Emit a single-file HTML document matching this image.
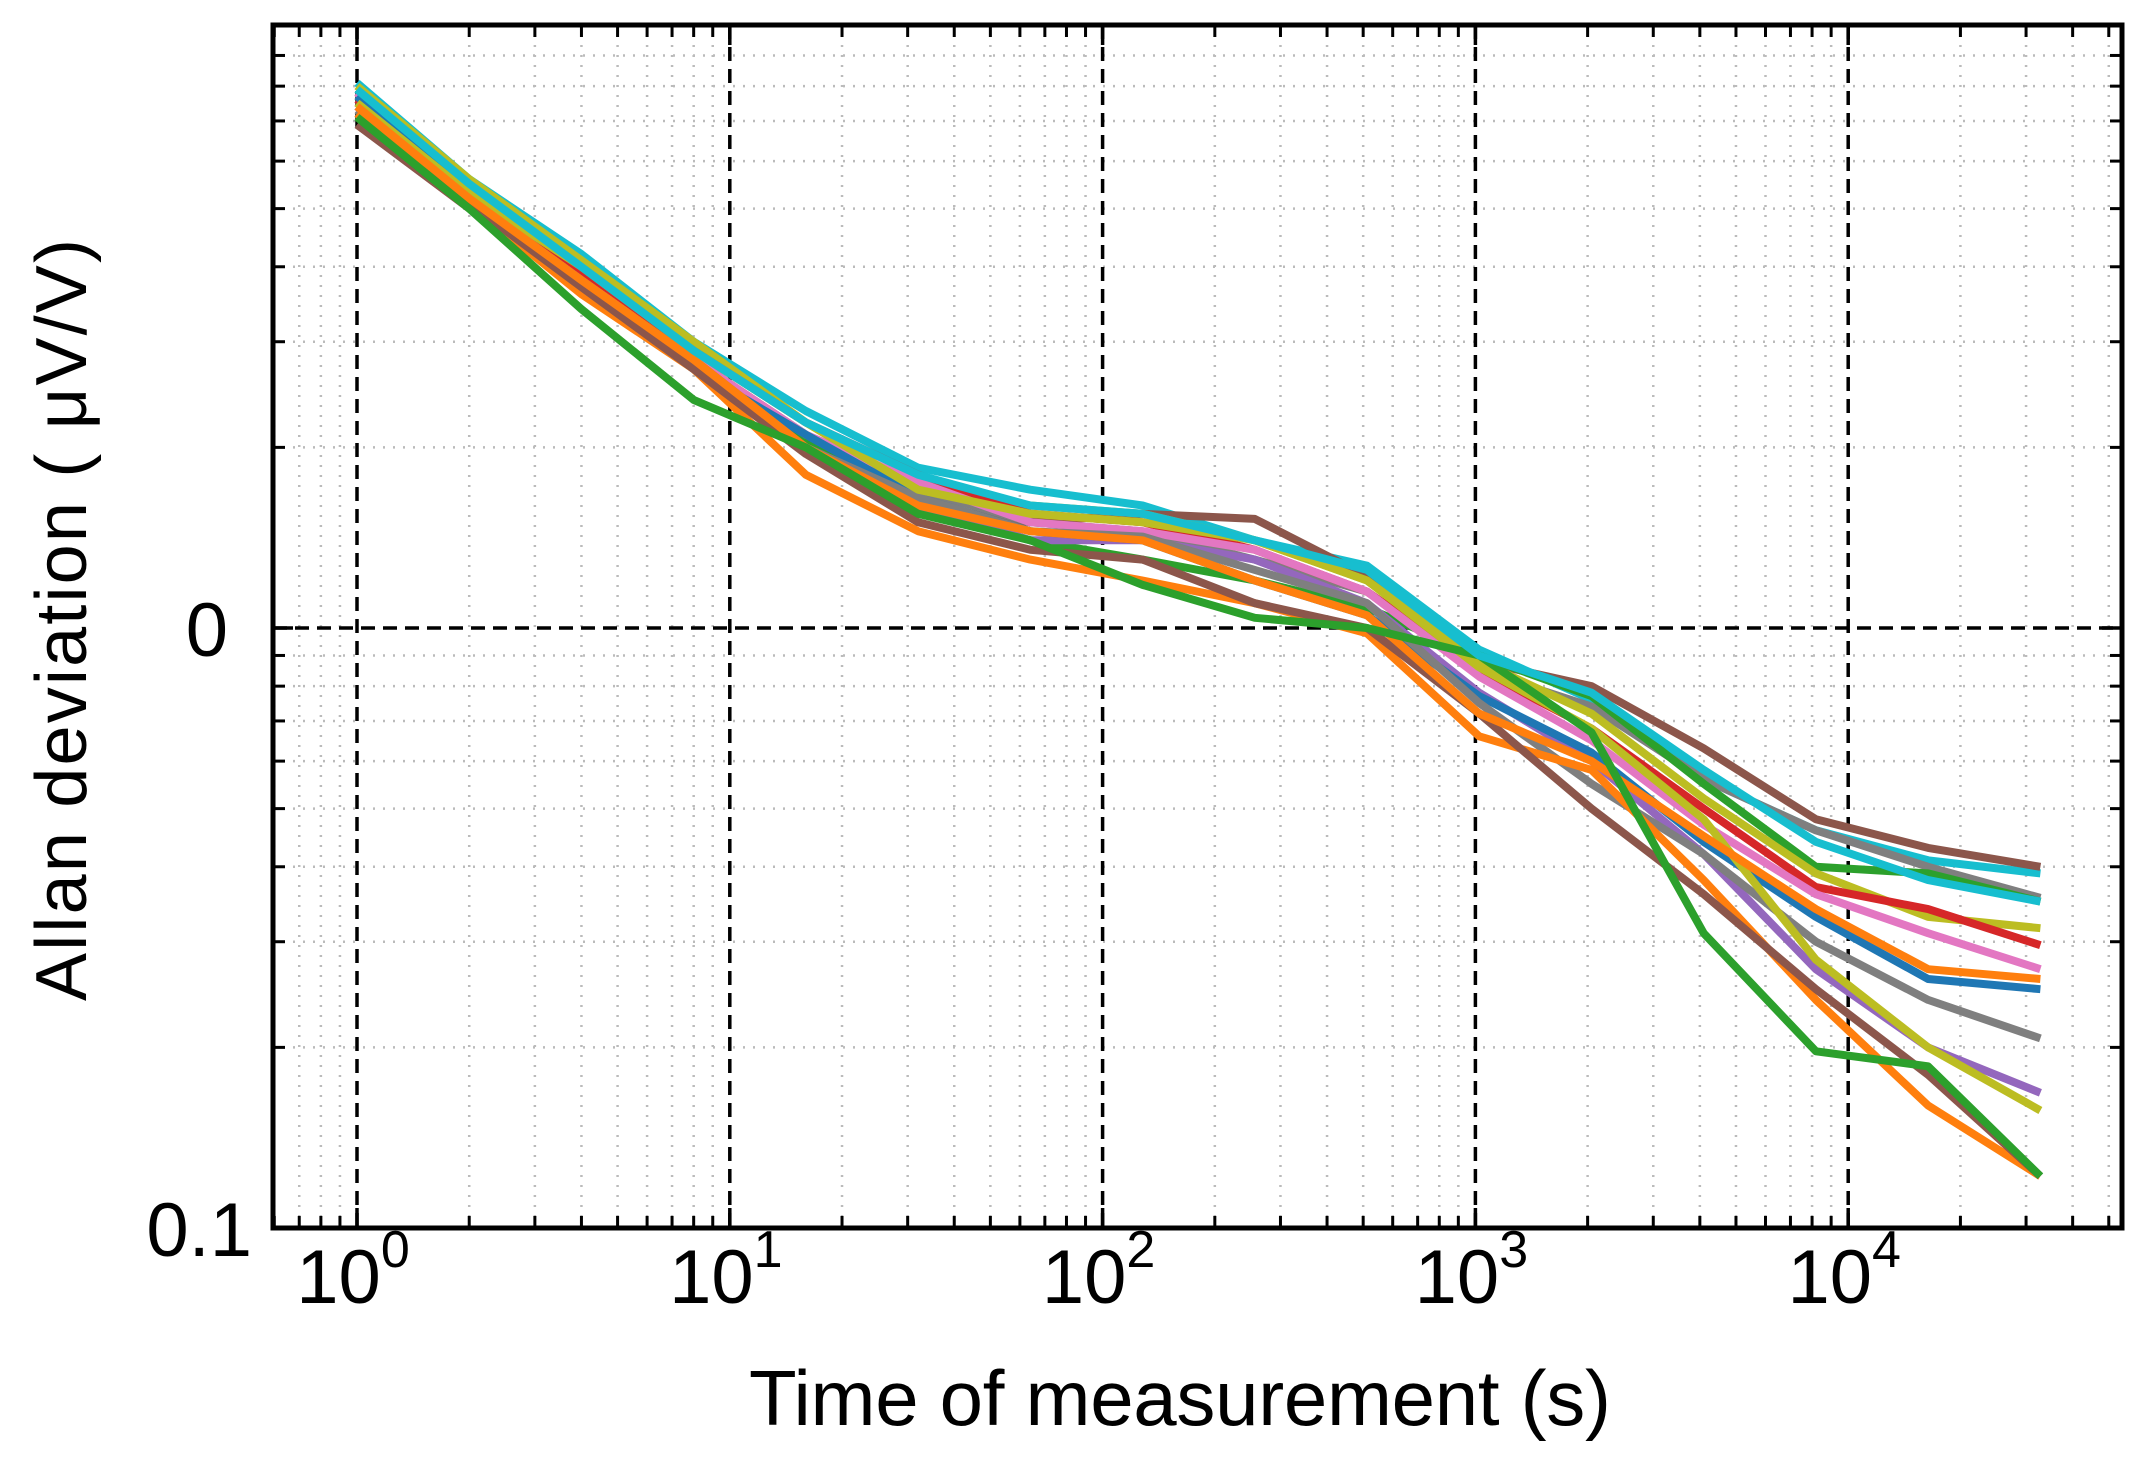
<!DOCTYPE html>
<html><head><meta charset="utf-8"><style>
html,body{margin:0;padding:0;background:#fff;}
svg{display:block;font-family:"Liberation Sans","DejaVu Sans",sans-serif;}
</style></head><body>
<svg id="chart" width="2149" height="1465" viewBox="0 0 2149 1465" xmlns="http://www.w3.org/2000/svg">
<rect x="0" y="0" width="2149" height="1465" fill="#fff"/>
<g id="grid"></g>
<g id="series"></g>
<g id="axes"></g>
<text x="1180" y="1425" font-size="78" text-anchor="middle" textLength="862">Time of measurement (s)</text>
<text transform="translate(86,620) rotate(-90)" font-size="72" text-anchor="middle" textLength="762">Allan deviation ( μV/V)</text>
</svg>
<script>
const taus = [1,2,4,8,16,32,64,128,256,512,1024,2048,4096,8192,16384,32768];
const colors = ["#17becf","#8c564b","#7f7f7f","#2ca02c","#bcbd22","#d62728","#e377c2","#9467bd","#1f77b4","#7f7f7f","#ff7f0e","#8c564b","#bcbd22","#ff7f0e","#2ca02c","#17becf"];
const sCyan = [8.1,5.6,4.2,3.0,2.3,1.85,1.7,1.6,1.4,1.27,0.92,0.76,0.56,0.46,0.41,0.39];
const sBrown = [6.9,5.0,3.8,2.8,2.1,1.6,1.5,1.55,1.52,1.22,0.88,0.80,0.63,0.48,0.43,0.40];
const sGray = [7.3,5.2,3.8,2.8,2.1,1.7,1.5,1.45,1.3,1.15,0.85,0.74,0.56,0.46,0.40,0.355];
const sGreen1 = [7.2,5.1,3.7,2.7,2.05,1.6,1.4,1.3,1.2,1.08,0.9,0.77,0.55,0.40,0.39,0.35];
const sOlive1 = [8.0,5.6,4.1,3.0,2.2,1.7,1.6,1.55,1.4,1.2,0.88,0.72,0.52,0.39,0.33,0.316];
const sRed = [7.6,5.3,3.9,2.9,2.2,1.8,1.55,1.5,1.35,1.15,0.85,0.68,0.5,0.37,0.34,0.296];
const sPink = [7.8,5.2,3.8,2.8,2.1,1.75,1.5,1.45,1.35,1.15,0.83,0.65,0.47,0.36,0.31,0.27];
const sPurple = [7.4,5.1,3.7,2.7,2.0,1.6,1.4,1.4,1.3,1.1,0.78,0.6,0.42,0.27,0.2,0.168];
const sBlue = [7.7,5.3,3.7,2.7,2.1,1.65,1.45,1.4,1.2,1.05,0.77,0.62,0.44,0.33,0.26,0.25];
const sGray2 = [7.5,5.2,3.8,2.8,2.0,1.65,1.45,1.42,1.25,1.1,0.75,0.55,0.42,0.30,0.24,0.207];
const sOrange1 = [7.2,5.1,3.6,2.7,1.8,1.45,1.3,1.2,1.1,0.98,0.66,0.58,0.38,0.24,0.16,0.122];
const sBrown2 = [6.9,5.1,3.7,2.7,1.95,1.5,1.35,1.3,1.1,1.0,0.72,0.5,0.36,0.25,0.18,0.122];
const sOlive2 = [7.5,5.3,4.0,2.9,2.2,1.7,1.55,1.5,1.4,1.2,0.86,0.68,0.48,0.28,0.2,0.157];
const sOrange2 = [7.4,5.2,3.8,2.8,2.0,1.6,1.45,1.4,1.2,1.05,0.72,0.6,0.45,0.34,0.27,0.26];
const sGreen2 = [7.1,5.0,3.4,2.4,2.0,1.55,1.4,1.18,1.04,1.0,0.9,0.67,0.31,0.197,0.186,0.122];
const sCyan2 = [7.9,5.5,4.0,2.9,2.2,1.8,1.6,1.55,1.4,1.25,0.9,0.78,0.58,0.44,0.38,0.35];
const series = [sCyan,sBrown,sGray,sGreen1,sOlive1,sRed,sPink,sPurple,sBlue,sGray2,sOrange1,sBrown2,sOlive2,sOrange2,sGreen2,sCyan2];
const xTickExps = [0,1,2,3,4];
const yTickVals = [0.1,1];
const yTickLabels = ["0.1","0"];

const NS = "http://www.w3.org/2000/svg";
const L=273,R=2122,T=25,B=1228;
const x0=357, xDec=372.8, y1=628, yDec=600;
function xs(v){return x0+Math.log10(v)*xDec;}
function ys(v){return y1-Math.log10(v)*yDec;}
function mk(tag,attrs,parent){const e=document.createElementNS(NS,tag);for(const k in attrs)e.setAttribute(k,attrs[k]);parent.appendChild(e);return e;}
const grid=document.getElementById('grid'), axes=document.getElementById('axes'), sg=document.getElementById('series');

for(let d=-1;d<=5;d++){for(let m=2;m<=9;m++){const v=m*Math.pow(10,d);const x=xs(v);if(x>L&&x<R){
 const l=mk('line',{x1:x,x2:x,y1:T,y2:B,stroke:'#bbb','stroke-width':2.5,'stroke-dasharray':'2 8'},grid);
 
 
 mk('line',{x1:x,x2:x,y1:B,y2:B-12,stroke:'#000','stroke-width':3},axes);
 mk('line',{x1:x,x2:x,y1:T,y2:T+12,stroke:'#000','stroke-width':3},axes);}}}
for(let d=-2;d<=1;d++){for(let m=2;m<=9;m++){const v=m*Math.pow(10,d);const y=ys(v);if(y>T&&y<B){
 const l=mk('line',{x1:L,x2:R,y1:y,y2:y,stroke:'#bbb','stroke-width':2.5,'stroke-dasharray':'2 8'},grid);
 
 
 mk('line',{x1:L,x2:L+12,y1:y,y2:y,stroke:'#000','stroke-width':3},axes);
 mk('line',{x1:R,x2:R-12,y1:y,y2:y,stroke:'#000','stroke-width':3},axes);}}}
xTickExps.forEach(e=>{const x=xs(Math.pow(10,e));
 const l=mk('line',{x1:x,x2:x,y1:T,y2:B,stroke:'#000','stroke-width':3.5,'stroke-dasharray':'14 8'},grid);
 
 
 mk('line',{x1:x,x2:x,y1:B,y2:B-20,stroke:'#000','stroke-width':3.5},axes);
 mk('line',{x1:x,x2:x,y1:T,y2:T+20,stroke:'#000','stroke-width':3.5},axes);
 const t=mk('text',{x:x-4,y:1303,'font-size':76,'text-anchor':'middle'},axes);
 
 
 t.textContent='10';
 const s=mk('tspan',{dy:-36,'font-size':52},t); s.textContent=String(e);
});
yTickVals.forEach((v,i)=>{const y=ys(v);
 if(y>T+2&&y<B-2){const l=mk('line',{x1:L,x2:R,y1:y,y2:y,stroke:'#000','stroke-width':3.5,'stroke-dasharray':'14 8'},grid);
 
 }
 mk('line',{x1:L,x2:L+20,y1:y,y2:y,stroke:'#000','stroke-width':3.5},axes);
 mk('line',{x1:R,x2:R-20,y1:y,y2:y,stroke:'#000','stroke-width':3.5},axes);
 const t=mk('text',{x:i===1?228:252,y:y+28,'font-size':76,'text-anchor':'end'},axes);
 
 
 t.textContent=yTickLabels[i];
});
const fr=mk('rect',{x:L,y:T,width:R-L,height:B-T,fill:'none',stroke:'#000','stroke-width':5},axes);


series.forEach((s,i)=>{
 const d=s.map((v,j)=>(j?'L':'M')+xs(taus[j]).toFixed(1)+','+ys(v).toFixed(1)).join(' ');
 const p=mk('path',{d:d,fill:'none',stroke:colors[i],'stroke-width':8,'stroke-linejoin':'round'},sg);
 
 
});
</script>
</body></html>
